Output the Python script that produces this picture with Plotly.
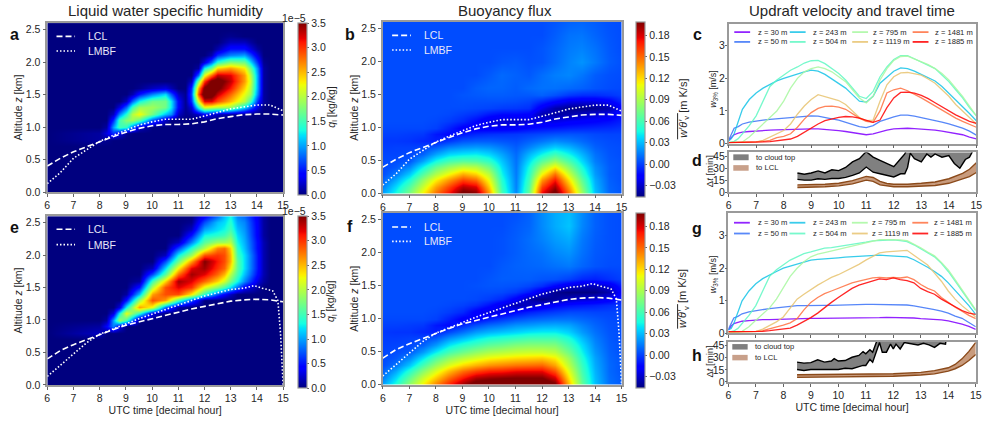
import numpy as np
import plotly.graph_objects as go

W, H = 988, 421
FONT = "Liberation Sans"
TXT = "#262626"
SPINE = "#9a9a9a"

# ------------------------------------------------------------------ grids
HOURS = [6, 6.5, 7, 7.5, 8, 8.5, 9, 9.5, 10, 10.5, 11, 11.5, 12, 12.5, 13, 13.5, 14, 14.5, 15]
X_A = [6,8,8.25,8.5,8.75,9,9.25,9.5,10,10.5,10.75,11,11.25,11.5,11.75,12,12.25,12.5,13,13.5,13.75,14,14.25,14.5,15]
X_E = [6,8,8.25,8.5,8.75,9,9.5,10,10.5,11,11.5,12,12.5,12.75,13,13.25,13.5,14,14.25,14.5,15]
Z_QL = [0, .7, .8, .9, 1.0, 1.1, 1.2, 1.3, 1.4, 1.5, 1.6, 1.7, 1.8, 1.9, 2.0, 2.1, 2.2, 2.3, 2.4, 2.5, 2.6]
Z_BF = [0, .1, .2, .3, .4, .5, .6, .7, .8, .9, 1.0, 1.1, 1.2, 1.3, 1.4, 1.5, 1.6, 1.8, 2.0, 2.2, 2.4, 2.6]

# liquid water specific humidity, units of 1e-5 kg/kg (rows follow Z_QL, columns X_A / X_E)
QL_A = [
 [0]*25,
 [0]*25,
 [0,.1,.05,0,0,0,0,0,0,0,0,0,0,0,0,0,0,0,0,0,0,0,0,0,0],
 [0,.1,.3,.6,.3,.05,0,0,0,0,0,0,0,0,0,0,0,0,0,0,0,0,0,0,0],
 [0,0,.1,1.0,1.5,1.4,.8,.2,0,0,0,0,0,0,0,0,0,0,0,0,0,0,0,0,0],
 [0,0,0,.6,1.5,1.8,1.9,1.6,.7,.2,0,0,0,0,0,0,0,0,0,0,0,0,0,0,0],
 [0,0,0,.2,.9,1.4,2.0,2.25,1.7,1.1,.9,.2,.05,.1,.2,.4,.3,.2,.1,.05,0,0,0,0,0],
 [0,0,0,0,.3,.8,1.5,1.9,1.9,1.7,1.2,.4,.05,.3,1.4,2.2,2.1,2.0,1.9,1.2,.8,.3,.02,0,0],
 [0,0,0,0,0,.2,.8,1.3,1.7,1.7,1.2,.4,.05,.6,2.2,3.2,3.2,2.9,2.5,2.0,1.5,.6,.1,0,0],
 [0,0,0,0,0,0,.15,.5,.9,1.2,.7,.2,.05,.7,2.9,3.8,3.7,3.3,2.8,2.2,1.9,.9,.1,0,0],
 [0,0,0,0,0,0,0,.05,.2,.3,.15,0,0,.6,2.6,3.6,3.8,3.6,3.1,2.4,2.0,1.0,.1,0,0],
 [0,0,0,0,0,0,0,0,0,0,0,0,0,.2,1.8,3.0,3.6,3.7,3.3,2.6,2.1,1.0,.1,0,0],
 [0,0,0,0,0,0,0,0,0,0,0,0,0,0,.8,2.2,2.8,3.3,3.2,2.6,2.0,1.0,.1,0,0],
 [0,0,0,0,0,0,0,0,0,0,0,0,0,0,.1,1.3,1.7,2.4,2.6,2.3,1.7,.9,.1,0,0],
 [0,0,0,0,0,0,0,0,0,0,0,0,0,0,0,.3,.8,1.4,1.8,1.7,1.2,.6,.05,0,0],
 [0,0,0,0,0,0,0,0,0,0,0,0,0,0,0,0,.15,.6,.9,1.0,.7,.3,0,0,0],
 [0,0,0,0,0,0,0,0,0,0,0,0,0,0,0,0,0,.15,.5,.5,.3,.1,0,0,0],
 [0,0,0,0,0,0,0,0,0,0,0,0,0,0,0,0,0,0,.2,.2,.1,0,0,0,0],
 [0,0,0,0,0,0,0,0,0,0,0,0,0,0,0,0,0,0,.05,0,0,0,0,0,0],
 [0]*25,
 [0]*25,
]
QL_E = [
 [0]*21,
 [0]*21,
 [0,.2,0,0,0,0,0,0,0,0,0,0,0,0,0,0,0,0,0,0,0],
 [0,.1,.4,.9,.3,0,0,0,0,0,0,0,0,0,0,0,0,0,0,0,0],
 [0,0,.1,1.0,1.9,1.5,0,0,0,0,0,0,0,0,0,0,0,0,0,0,0],
 [0,0,0,.3,1.3,2.2,1.4,.3,0,0,0,0,0,0,0,0,0,0,0,0,0],
 [0,0,0,0,.3,1.3,2.6,2.2,.8,.1,0,0,0,0,0,0,0,0,0,0,0],
 [0,0,0,0,0,.5,1.9,2.9,2.6,1.5,.7,0,0,0,0,0,0,0,0,0,0],
 [0,0,0,0,0,.1,1.1,2.6,2.9,2.9,2.3,1.4,.7,.4,.2,0,0,0,0,0,0],
 [0,0,0,0,0,0,.5,2.0,2.9,3.2,3.0,2.2,1.8,1.5,1.2,.8,.4,.1,0,0,0],
 [0,0,0,0,0,0,.1,1.5,2.4,3.4,3.2,2.8,2.4,2.1,1.7,1.3,.9,.3,.1,0,0],
 [0,0,0,0,0,0,0,.7,1.6,2.8,3.4,3.2,2.8,2.5,2.0,1.5,1.1,.45,.15,0,0],
 [0,0,0,0,0,0,0,.2,1.2,2.3,3.2,3.4,3.0,2.8,2.3,1.6,1.2,.5,.15,0,0],
 [0,0,0,0,0,0,0,0,.7,1.7,2.6,3.5,3.1,2.9,2.5,1.6,1.2,.5,.15,0,0],
 [0,0,0,0,0,0,0,0,.2,1.3,1.9,2.9,3.0,2.9,2.5,1.5,1.2,.5,.15,0,0],
 [0,0,0,0,0,0,0,0,0,.7,1.4,2.0,2.7,2.8,2.4,1.4,1.1,.45,.15,0,0],
 [0,0,0,0,0,0,0,0,0,.2,.9,1.6,1.9,1.9,2.0,1.3,1.05,.45,.15,0,0],
 [0,0,0,0,0,0,0,0,0,0,.5,1.3,1.4,1.5,1.7,1.2,1.0,.4,.1,0,0],
 [0,0,0,0,0,0,0,0,0,0,.2,1.0,1.2,1.3,1.5,1.1,.95,.4,.1,0,0],
 [0,0,0,0,0,0,0,0,0,0,.05,.7,1.1,1.2,1.4,1.0,.9,.38,.1,0,0],
 [0,0,0,0,0,0,0,0,0,0,0,.4,.8,1.1,1.3,.9,.8,.35,.1,0,0],
]
# buoyancy flux, units of 1e-3 m K/s (rows follow Z_BF, columns HOURS)
BF_B = [
 [25,48,78,115,150,175,208,200,140,60,18,70,178,210,150,88,32,10,5],
 [16,38,66,100,135,160,188,180,125,55,16,64,160,192,135,78,29,9,5],
 [8,26,50,84,115,138,160,150,110,50,15,58,138,172,118,68,26,8,4],
 [3,14,34,64,92,112,132,122,95,44,14,52,112,148,100,57,22,7,4],
 [2,6,18,44,70,86,98,94,74,38,13,46,88,115,80,47,19,7,4],
 [2,3,6,24,46,60,66,64,54,32,12,38,66,85,62,37,15,6,4],
 [1,1,2,8,24,36,40,42,36,24,10,28,44,58,44,28,12,5,3],
 [-1,0,0,1,6,16,20,22,20,14,7,16,26,34,28,18,8,4,3],
 [-2,-2,-3,-6,-8,-2,5,7,7,5,3,8,13,18,15,10,5,3,2],
 [0,0,-1,-2,-10,-14,-10,-6,-4,-3,-2,0,2,4,5,4,2,1,1],
 [2,2,2,2,0,-8,-18,-20,-20,-20,-18,-14,-12,-10,-8,-7,-6,-5,-3],
 [3,3,3,3,2,-1,-6,-14,-24,-28,-30,-26,-24,-24,-20,-18,-16,-13,-8],
 [3,3,3,3,3,2,-1,-4,-10,-14,-14,-16,-36,-38,-36,-32,-28,-24,-12],
 [3,3,3,3,3,3,3,2,1,-1,-2,-4,-22,-36,-42,-44,-42,-36,-16],
 [3,3,3,3,3,3,4,4,4,4,3,1,-6,-14,-22,-24,-24,-18,-6],
 [3,3,3,3,3,3,5,6,7,7,6,6,8,4,-2,-5,-5,-3,0],
 [3,3,3,3,3,3,3,7,9,9,7,10,12,12,10,8,5,3,2],
 [3,3,3,3,3,3,3,3,6,10,8,6,11,15,17,13,7,4,3],
 [3,3,3,3,3,3,3,3,3,5,6,4,5,10,16,20,14,7,4],
 [3,3,3,3,3,3,3,3,3,3,3,3,5,9,14,16,12,6,3],
 [3,3,3,3,3,3,3,3,3,3,3,3,3,7,12,13,9,5,3],
 [3,3,3,3,3,3,3,3,3,3,3,3,3,5,8,9,7,4,3],
]
BF_F = [
 [25,50,85,115,145,170,195,212,215,218,220,220,220,205,130,70,32,12,6],
 [15,38,70,100,125,150,172,190,195,198,200,200,200,182,118,65,30,11,6],
 [8,25,52,80,105,128,148,160,168,170,175,176,176,156,106,60,28,10,5],
 [3,13,33,60,85,105,120,130,138,142,146,148,150,134,95,56,26,10,5],
 [2,6,18,40,64,82,95,104,112,116,120,122,124,115,85,50,24,9,5],
 [1,3,7,22,42,60,72,82,90,94,98,100,100,95,72,44,21,8,4],
 [0,1,2,8,22,40,52,60,68,72,78,80,80,78,60,38,18,7,4],
 [-1,-1,0,1,6,20,30,40,48,52,56,60,60,60,48,30,15,6,3],
 [-2,-3,-3,-6,-8,2,12,22,28,32,36,40,42,42,35,22,12,5,3],
 [0,0,-1,-2,-10,-14,-6,3,10,14,20,22,25,26,24,16,9,4,3],
 [2,2,2,2,0,-8,-18,-16,-8,-2,4,8,10,12,12,9,6,3,2],
 [3,3,3,3,2,-1,-6,-18,-26,-22,-14,-8,-4,-1,2,2,1,1,1],
 [3,3,3,3,3,2,0,-4,-12,-24,-36,-32,-24,-16,-12,-10,-8,-5,-2],
 [3,3,3,3,3,3,3,2,-1,-6,-18,-36,-44,-40,-32,-28,-26,-20,-8],
 [3,3,3,3,3,3,3,3,3,2,-2,-10,-26,-42,-46,-45,-44,-36,-14],
 [3,3,3,3,3,3,3,4,5,5,4,1,-5,-16,-26,-32,-34,-26,-8],
 [3,3,3,3,3,3,3,3,5,7,7,7,5,4,0,-6,-8,-4,0],
 [3,3,3,3,3,3,3,3,3,6,8,9,10,12,14,9,5,3,3],
 [3,3,3,3,3,3,3,3,3,4,7,10,12,17,20,12,6,4,3],
 [3,3,3,3,3,3,3,3,3,4,7,11,16,22,26,14,7,4,3],
 [3,3,3,3,3,3,3,3,3,3,6,9,18,26,32,17,8,4,3],
 [3,3,3,3,3,3,3,3,3,3,4,8,18,26,30,18,8,4,3],
]

# LCL and LMBF heights [km]
LCL_T_TOP = HOURS
LCL_TOP = [.40,.52,.62,.70,.78,.85,.92,.98,1.02,1.04,1.04,1.05,1.08,1.13,1.16,1.19,1.20,1.20,1.185]
LMBF_T_TOP = [6,6.5,7,7.5,8,8.5,9,9.5,10,10.5,11,11.5,12,12.5,13,13.5,14,14.5,14.75,15]
LMBF_TOP = [.13,.30,.52,.65,.78,.87,.95,1.03,1.08,1.12,1.12,1.12,1.17,1.23,1.28,1.31,1.34,1.34,1.30,1.25]
LCL_T_BOT = HOURS
LCL_BOT = [.40,.53,.62,.70,.78,.85,.92,.97,1.03,1.08,1.13,1.17,1.21,1.25,1.29,1.31,1.32,1.31,1.28]
LMBF_T_BOT = [6,6.5,7,7.5,8,8.5,9,9.5,10,10.5,11,11.5,12,12.5,13,13.5,13.9,14.2,14.6,14.8,14.9,15]
LMBF_BOT = [.13,.30,.48,.65,.78,.86,.95,1.02,1.09,1.16,1.24,1.30,1.37,1.42,1.47,1.49,1.53,1.49,1.45,1.30,.80,0]

# updraft velocity w_3% [m/s]
WT = [6,6.1,6.2,6.35,6.5,6.75,7,7.25,7.5,7.75,8,8.25,8.5,8.75,9,9.25,9.5,9.75,10,10.25,10.5,10.75,11,11.25,11.5,11.75,12,12.25,12.5,12.75,13,13.25,13.5,13.75,14,14.25,14.5,14.75,15]
HEIGHT_LABELS = ["z = 30 m","z = 50 m","z = 243 m","z = 504 m","z = 795 m","z = 1119 m","z = 1481 m","z = 1885 m"]
W_C_30  = [.1,.2,.27,.32,.35,.37,.39,.4,.41,.42,.43,.44,.44,.45,.45,.45,.44,.42,.4,.37,.33,.29,.27,.3,.36,.41,.45,.47,.47,.46,.45,.43,.41,.38,.35,.31,.27,.2,.14]
W_C_50  = [.1,.3,.47,.52,.6,.66,.7,.72,.74,.76,.79,.81,.83,.84,.85,.84,.81,.76,.72,.65,.58,.52,.49,.55,.68,.76,.82,.87,.87,.84,.8,.76,.72,.66,.6,.54,.47,.38,.26]
W_C_243 = [.08,.15,.3,.7,1.05,1.35,1.55,1.7,1.82,1.92,2.0,2.07,2.14,2.2,2.25,2.22,2.12,1.98,1.85,1.7,1.5,1.3,1.27,1.45,1.85,2.05,2.22,2.32,2.3,2.22,2.12,2.02,1.92,1.75,1.55,1.35,1.15,.92,.7]
W_C_504 = [.03,.05,.07,.15,.3,.55,.85,1.3,1.75,1.95,2.1,2.25,2.35,2.47,2.54,2.55,2.45,2.3,2.15,1.95,1.7,1.45,1.38,1.6,2.05,2.35,2.58,2.7,2.7,2.6,2.5,2.42,2.3,2.1,1.9,1.65,1.4,1.1,.85]
W_C_795 = [.03,.03,.03,.03,.05,.2,.4,.6,.8,1.0,1.3,1.7,2.0,2.2,2.3,2.35,2.3,2.2,2.05,1.9,1.65,1.4,1.25,1.45,1.95,2.3,2.55,2.67,2.68,2.6,2.5,2.42,2.3,2.15,1.95,1.7,1.45,1.15,.85]
W_C_1119= [.03,.03,.03,.03,.03,.04,.05,.1,.2,.3,.4,.6,.9,1.15,1.35,1.5,1.43,1.38,1.32,1.2,1.0,.8,.7,.72,1.3,1.8,2.05,2.17,2.18,2.15,2.1,1.98,1.85,1.65,1.45,1.2,1.0,.78,.6]
W_C_1481= [.03,.03,.03,.03,.03,.04,.05,.07,.1,.18,.22,.3,.5,.75,.95,1.08,1.14,1.15,1.12,1.05,.92,.78,.68,.65,1.0,1.55,1.65,1.7,1.62,1.52,1.4,1.28,1.15,1.02,.9,.78,.68,.58,.5]
W_C_1885= [.03,.03,.03,.03,.03,.03,.04,.05,.06,.08,.11,.14,.22,.35,.48,.6,.7,.76,.8,.83,.82,.78,.72,.65,.72,1.1,1.4,1.57,1.58,1.55,1.48,1.38,1.25,1.12,1.0,.88,.78,.68,.62]

W_G_30  = [.1,.22,.3,.34,.37,.39,.41,.42,.42,.43,.43,.44,.44,.45,.46,.46,.46,.47,.47,.47,.47,.48,.48,.48,.48,.49,.49,.49,.48,.47,.45,.44,.43,.41,.38,.34,.28,.21,.12]
W_G_50  = [.12,.3,.47,.52,.6,.66,.7,.73,.76,.78,.81,.83,.85,.85,.86,.86,.86,.86,.87,.87,.88,.88,.89,.89,.89,.88,.88,.87,.87,.84,.81,.77,.73,.68,.62,.53,.46,.33,.2]
W_G_243 = [.1,.15,.3,.65,1.0,1.3,1.52,1.68,1.8,1.9,2.0,2.06,2.12,2.2,2.25,2.27,2.28,2.29,2.32,2.34,2.35,2.37,2.38,2.4,2.4,2.39,2.38,2.37,2.35,2.26,2.15,2.03,1.9,1.75,1.55,1.32,1.1,.85,.58]
W_G_504 = [.03,.05,.07,.15,.3,.55,.85,1.3,1.75,1.95,2.1,2.25,2.35,2.45,2.5,2.57,2.62,2.63,2.66,2.7,2.72,2.75,2.8,2.84,2.85,2.85,2.87,2.85,2.82,2.72,2.6,2.48,2.35,2.15,1.9,1.6,1.3,1.0,.7]
W_G_795 = [.03,.03,.03,.03,.06,.2,.4,.6,.78,1.05,1.4,1.75,2.0,2.2,2.35,2.43,2.48,2.53,2.58,2.65,2.7,2.73,2.78,2.83,2.88,2.88,2.88,2.87,2.85,2.75,2.63,2.5,2.38,2.18,1.95,1.65,1.35,1.05,.72]
W_G_1119= [.03,.03,.03,.03,.03,.04,.05,.13,.25,.35,.5,.78,1.05,1.2,1.35,1.48,1.6,1.72,1.8,1.9,2.0,2.12,2.25,2.35,2.47,2.5,2.52,2.53,2.55,2.4,2.25,2.1,1.85,1.6,1.3,1.05,.85,.68,.5]
W_G_1481= [.05,.05,.05,.05,.05,.05,.06,.08,.13,.18,.25,.32,.45,.72,.95,1.1,1.22,1.3,1.38,1.48,1.55,1.6,1.65,1.7,1.72,1.7,1.72,1.7,1.73,1.65,1.5,1.38,1.3,1.1,.95,.8,.68,.55,.45]
W_G_1885= [.05,.05,.05,.05,.05,.05,.05,.06,.08,.1,.12,.16,.25,.36,.48,.62,.8,.95,1.1,1.25,1.38,1.48,1.55,1.62,1.67,1.65,1.7,1.65,1.62,1.55,1.38,1.28,1.2,1.05,.93,.8,.7,.62,.58]

LINE_COLORS = ["#8000ff","#3c74f8","#18c4e8","#60f8c4","#a8f8a0","#e8c470","#ff7040","#ff0000"]

# travel time [min]
TOP_T_D = [8.5,8.75,9,9.25,9.5,9.75,10,10.25,10.5,10.75,11,11.25,11.5,11.75,12,12.25,12.4,12.5,12.6,12.75,13,13.2,13.35,13.5,13.75,14,14.2,14.4,14.6,14.75,15]
TOP_HI_D = [24,22.5,24,26.6,24,28,27,31,38,42,51,44,40,36,32,42,48,56,60,60,60,60,60,60,60,60,60,60,60,60,60]
TOP_LO_D = [16,15,15,16.8,16,17,17,18.5,21,24,31.5,25,23,21,19,23,23,31,49,42,38,48,44,48,44,46,36,30,41,44,60]
LCL_T_D = [8.5,9,9.5,10,10.5,11,11.25,11.5,11.75,12,12.5,13,13.5,14,14.5,14.75,15]
LCL_HI_D = [9,9,9.8,11,14.3,19.7,18.4,13.5,10.7,9.8,9.8,11,12.7,16.8,23.4,28.7,37]
LCL_LO_D = [5.7,6,6.6,7.8,10.2,15,13.5,9,7.4,6.6,6.6,7.4,8.2,11,16,19.3,24.6]

TOP_T_H = [8.5,8.75,9,9.25,9.5,9.75,9.85,10,10.25,10.5,10.75,10.9,11,11.15,11.25,11.4,11.5,11.6,11.75,11.9,12,12.1,12.25,12.4,12.6,12.9,13.1,13.3,13.5,13.7,13.9,13.95,15]
TOP_HI_H = [24.6,23.4,24,27.5,24.6,26,29,26,26.6,30.7,33,37.7,35,40,37,50,60,60,60,60,60,60,60,60,60,60,60,60,60,60,60,60,60]
TOP_LO_H = [15.5,14.3,15.5,15.5,15.5,16,16,15.5,17,16.4,19,20.5,20.5,28,24.6,39,49,37,37,47,41,47,41,49,48,46,48,46,43,48,47,60,60]
LCL_T_H = [8.5,10,11,12,13,13.5,14,14.25,14.5,14.75,15]
LCL_HI_H = [9,9.4,9.8,10.2,11.9,14,17.6,21.7,28.7,38,49]
LCL_LO_H = [5.7,6,6.4,7,8.6,10,13.5,16.4,20.5,26.6,34]

TICK_HOURS = [6,7,8,9,10,11,12,13,14,15]
Z_TICKS = [0,.5,1,1.5,2,2.5]
QL_TICKS = [0,.5,1,1.5,2,2.5,3,3.5]
BF_TICKS = [-.03,0,.03,.06,.09,.12,.15,.18]
W_TICKS = [0,1,2,3]
DT_TICKS = [0,15,30,45]

JET = [[0,"rgb(0,0,127)"],[.11,"rgb(0,0,255)"],[.125,"rgb(0,0,255)"],[.34,"rgb(0,219,255)"],[.35,"rgb(0,230,247)"],
       [.375,"rgb(21,255,226)"],[.64,"rgb(239,255,8)"],[.65,"rgb(247,246,0)"],[.66,"rgb(255,236,0)"],[.89,"rgb(255,19,0)"],
       [.91,"rgb(232,0,0)"],[1,"rgb(127,0,0)"]]

# ------------------------------------------------------------------ layout helpers
def xd(a, b): return [a / W, b / W]
def yd(top, bot): return [1 - bot / H, 1 - top / H]
def px(x): return x / W
def py(y): return 1 - y / H

fig = go.Figure()
layout = dict(width=W, height=H, autosize=False, margin=dict(l=0, r=0, t=0, b=0), paper_bgcolor="white",
              plot_bgcolor="white", showlegend=False, font=dict(family=FONT, size=10.5, color=TXT))
annotations, shapes = [], []

def text(x, y, s, size=10.5, color=TXT, angle=0, anchor="center", bold=False):
    annotations.append(dict(xref="paper", yref="paper", x=px(x), y=py(y), text=f"<b>{s}</b>" if bold else s, showarrow=False,
                            font=dict(size=size, color=color, family=FONT), textangle=angle, xanchor=anchor, yanchor="middle"))

def axis(n, kind, dom, **kw):
    base = dict(domain=dom, showgrid=False, zeroline=False, showline=True, mirror=True, linecolor=SPINE, linewidth=1.5,
                ticks="outside", ticklen=3, tickwidth=1, tickcolor="#666", tickfont=dict(size=10.5, color=TXT, family=FONT))
    base.update(kw)
    layout[f"{kind}axis{'' if n == 1 else n}"] = base

def heat_panel(n, xdom, ydom, x, y, z, zmin, zmax, cbx, cbticks, cbfmt, lcl_t, lcl, lmbf_t, lmbf, xtitle):
    sx = "x" if n == 1 else f"x{n}"
    sy = "y" if n == 1 else f"y{n}"
    top, bot = ydom
    fig.add_trace(go.Heatmap(x=x, y=y, z=z, zmin=zmin, zmax=zmax, zsmooth="best", colorscale=JET, xaxis=sx, yaxis=sy, hoverinfo="skip",
        colorbar=dict(x=px(cbx), xanchor="left", xpad=0, ypad=0, y=py(top), yanchor="top", lenmode="pixels", len=bot - top,
                      thickness=9, thicknessmode="pixels", outlinecolor=SPINE, outlinewidth=1.2,
                      tickmode="array", tickvals=cbticks, tickformat=cbfmt, ticks="outside", ticklen=2, tickcolor="#666",
                      tickfont=dict(size=10.5, color=TXT, family=FONT))))
    fig.add_trace(go.Scatter(x=lcl_t, y=lcl, mode="lines", line=dict(color="white", width=1.6, dash="6px,3px"), xaxis=sx, yaxis=sy, hoverinfo="skip"))
    fig.add_trace(go.Scatter(x=lmbf_t, y=lmbf, mode="lines", line=dict(color="white", width=1.6, dash="1.5px,2px"), xaxis=sx, yaxis=sy, hoverinfo="skip"))
    xa = dict(range=[6, 15], tickmode="array", tickvals=TICK_HOURS, anchor=sy)
    if xtitle:
        xa.update(title=dict(text="UTC time [decimal hour]", font=dict(size=10.5, color=TXT, family=FONT), standoff=2))
    axis(n, "x", xd(*xdom), **xa)
    axis(n, "y", yd(top, bot), range=[0, 2.6], tickmode="array", tickvals=Z_TICKS, tickformat=".1f", anchor=sx,
         title=dict(text="Altitude <i>z</i> [km]", font=dict(size=10.5, color=TXT, family=FONT), standoff=1))

def legend_lcl(x0, x1, xt, y1, y2):
    shapes.append(dict(type="line", xref="paper", yref="paper", x0=px(x0), x1=px(x1), y0=py(y1), y1=py(y1),
                       line=dict(color="white", width=1.6, dash="6px,3px")))
    shapes.append(dict(type="line", xref="paper", yref="paper", x0=px(x0), x1=px(x1), y0=py(y2), y1=py(y2),
                       line=dict(color="white", width=1.6, dash="1.5px,2px")))
    text(xt, y1, "LCL", color="#e8e8f8", anchor="left")
    text(xt, y2, "LMBF", color="#e8e8f8", anchor="left")

def line_panel(n, xdom, ydom, series, ymax):
    sx, sy = f"x{n}", f"y{n}"
    for vals, c in zip(series, LINE_COLORS):
        fig.add_trace(go.Scatter(x=WT, y=vals, mode="lines", line=dict(color=c, width=1.3), opacity=.85, xaxis=sx, yaxis=sy, hoverinfo="skip"))
    axis(n, "x", xd(*xdom), range=[6, 15], tickmode="array", tickvals=TICK_HOURS, showticklabels=False, anchor=sy)
    axis(n, "y", yd(*ydom), range=[0, ymax], tickmode="array", tickvals=W_TICKS, anchor=sx, ticklen=2, ticklabelstandoff=-2)

def band(sx, sy, t, lo, hi, fill, edge):
    fig.add_trace(go.Scatter(x=t, y=lo, mode="lines", line=dict(color=edge, width=1.4), xaxis=sx, yaxis=sy, hoverinfo="skip"))
    fig.add_trace(go.Scatter(x=t, y=hi, mode="lines", line=dict(color=edge, width=1.4), fill="tonexty", fillcolor=fill, xaxis=sx, yaxis=sy, hoverinfo="skip"))

def time_panel(n, xdom, ydom, top_t, top_lo, top_hi, lcl_t, lcl_lo, lcl_hi, xtitle):
    sx, sy = f"x{n}", f"y{n}"
    band(sx, sy, top_t, top_lo, top_hi, "rgba(128,128,128,1)", "#000000")
    band(sx, sy, lcl_t, lcl_lo, lcl_hi, "rgba(200,155,125,1)", "#8b4a1a")
    xa = dict(range=[6, 15], tickmode="array", tickvals=TICK_HOURS, anchor=sy)
    if xtitle:
        xa.update(title=dict(text="UTC time [decimal hour]", font=dict(size=10.5, color=TXT, family=FONT), standoff=2))
    axis(n, "x", xd(*xdom), **xa)
    axis(n, "y", yd(*ydom), range=[0, 50], tickmode="array", tickvals=DT_TICKS, anchor=sx, ticklen=2, ticklabelstandoff=-2)

def w_legend(xo, y1, y2):
    for i, (sx0, tx) in enumerate(zip([738, 794, 857, 918], [760, 815.7, 875.7, 938.3])):
        for j, yy in enumerate([y1, y2]):
            k = i * 2 + j
            shapes.append(dict(type="line", xref="paper", yref="paper", x0=px(sx0 + xo), x1=px(sx0 + 16 + xo), y0=py(yy), y1=py(yy),
                               opacity=.85, line=dict(color=LINE_COLORS[k], width=1.8)))
            text(tx + xo, yy, HEIGHT_LABELS[k], size=7.6, anchor="left")

def t_legend(x0, tx, y1t, y1b, y2t, y2b):
    shapes.append(dict(type="rect", xref="paper", yref="paper", x0=px(x0), x1=px(x0 + 15.5), y0=py(y1t), y1=py(y1b), line=dict(width=0), fillcolor="#7f7f7f"))
    shapes.append(dict(type="rect", xref="paper", yref="paper", x0=px(x0), x1=px(x0 + 15.5), y0=py(y2t), y1=py(y2b), line=dict(width=0), fillcolor="#c8a08a"))
    text(tx, (y1t + y1b) / 2, "to cloud top", size=7.6, anchor="left")
    text(tx, (y2t + y2b) / 2, "to LCL", size=7.6, anchor="left")

BFb, BFf = np.array(BF_B) / 1000, np.array(BF_F) / 1000

heat_panel(1, (44.7, 282.7), (21.5, 193.7), X_A, Z_QL, QL_A, 0, 3.5, 297.3, QL_TICKS, ".1f", LCL_T_TOP, LCL_TOP, LMBF_T_TOP, LMBF_TOP, False)
heat_panel(2, (383.3, 624.3), (20.3, 195.3), HOURS, Z_BF, BFb, -.046, .199, 639, BF_TICKS, ".2f", LCL_T_TOP, LCL_TOP, LMBF_T_TOP, LMBF_TOP, False)
heat_panel(3, (44.7, 282.7), (218.3, 390.3), X_E, Z_QL, QL_E, 0, 3.5, 297.3, QL_TICKS, ".1f", LCL_T_BOT, LCL_BOT, LMBF_T_BOT, LMBF_BOT, True)
heat_panel(4, (383.3, 624.3), (215, 390), HOURS, Z_BF, BFf, -.046, .199, 639, BF_TICKS, ".2f", LCL_T_BOT, LCL_BOT, LMBF_T_BOT, LMBF_BOT, True)

line_panel(5, (732.3, 982.3), (22, 144.3), [W_C_30, W_C_50, W_C_243, W_C_504, W_C_795, W_C_1119, W_C_1481, W_C_1885], 3.68)
time_panel(6, (732.3, 982.3), (153.3, 193.7), TOP_T_D, TOP_LO_D, TOP_HI_D, LCL_T_D, LCL_LO_D, LCL_HI_D, False)
line_panel(7, (732, 981.7), (215, 337.7), [W_G_30, W_G_50, W_G_243, W_G_504, W_G_795, W_G_1119, W_G_1481, W_G_1885], 3.7)
time_panel(8, (732, 981.7), (346.3, 387.3), TOP_T_H, TOP_LO_H, TOP_HI_H, LCL_T_H, LCL_LO_H, LCL_HI_H, True)

# titles and panel letters
text(165, 9, "Liquid water specific humidity", size=15)
text(506.7, 9, "Buoyancy flux", size=15)
text(856.7, 9, "Updraft velocity and travel time", size=15)
for s, x, y in [("a",12,32.7),("b",350,33),("c",700.7,33),("d",700.7,161.7),("e",12,230),("f",350,229),("g",700.7,231),("h",700.7,360.7)]:
    text(x, y, s, size=16, color="#111", bold=True)

# side captions of the small panels
w3 = "<i>w</i><sub>3%</sub> [m/s]"
dt = "Δ<i>t</i> [min]"
text(717, 88, w3, size=9, angle=-90); text(717, 277, w3, size=9, angle=-90)
text(713, 173, dt, size=9.5, angle=-90); text(713, 367, dt, size=9.5, angle=-90)

# colour bar captions
text(294, 16, "1e−5"); text(294, 212.7, "1e−5")
text(331.7, 107, "<i>q</i><sub>l</sub> [kg/kg]", angle=-90); text(331.7, 305, "<i>q</i><sub>l</sub> [kg/kg]", angle=-90)
wth = "<i>w′θ′</i><sub>v</sub> [m K/s]"
text(687, 108, wth, size=11, angle=-90); text(687, 302, wth, size=11, angle=-90)
for y0, y1 in [(113.3, 140), (308, 333)]:
    shapes.append(dict(type="line", xref="paper", yref="paper", x0=px(680.8), x1=px(680.8), y0=py(y0), y1=py(y1), line=dict(color=TXT, width=1)))

# in-panel keys
legend_lcl(54, 72.7, 84, 35, 50)
legend_lcl(392.7, 411.7, 423.3, 34, 49)
legend_lcl(54, 72.7, 84, 231.7, 247.3)
legend_lcl(392.7, 411.7, 423.3, 229.3, 244)
w_legend(0, 30.7, 40.7)
w_legend(-.3, 225, 236)
t_legend(737, 757.7, 155.3, 161.3, 166.3, 172)
t_legend(736, 756.7, 348.7, 354.3, 359.7, 365.3)

layout["annotations"] = annotations
layout["shapes"] = shapes
fig.update_layout(**layout)
fig.write_html("out.html", config={"displayModeBar": False},
               post_script="document.body.style.margin='0';document.documentElement.style.overflow='hidden';")
